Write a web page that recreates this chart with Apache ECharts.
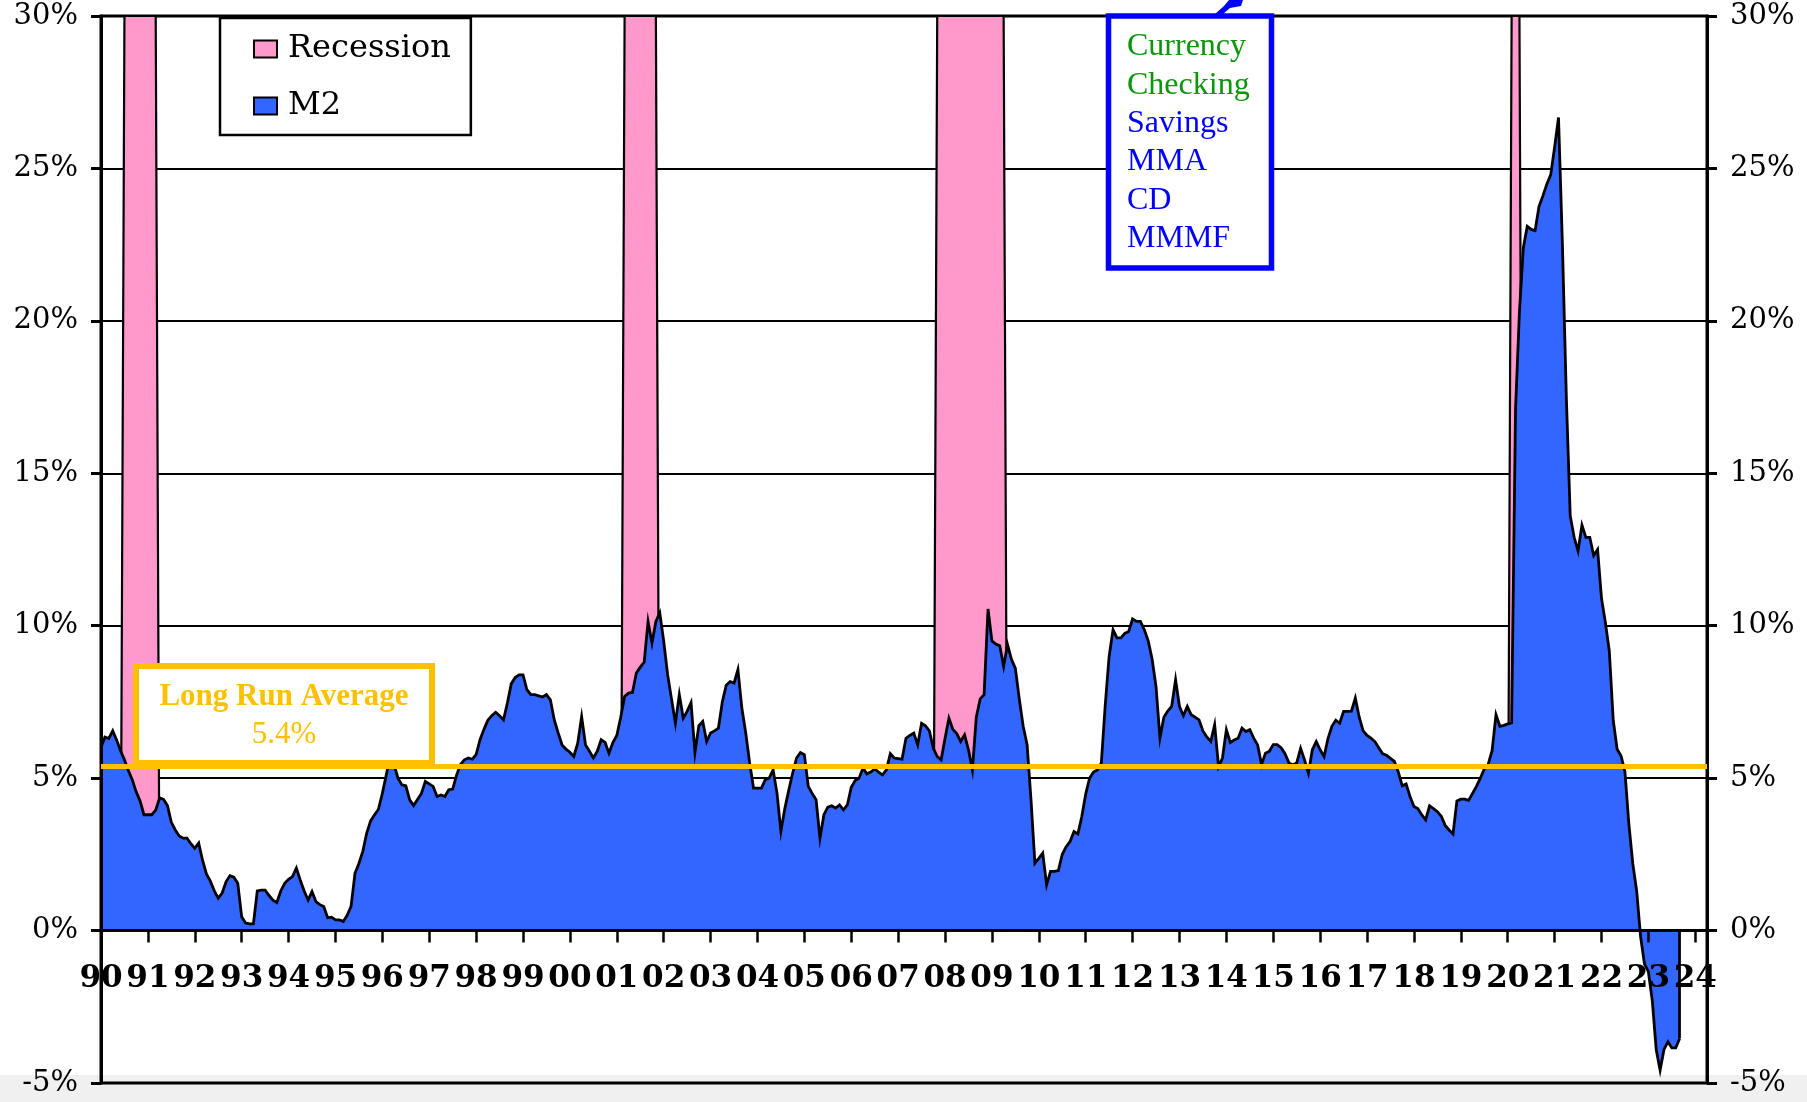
<!DOCTYPE html>
<html>
<head>
<meta charset="utf-8">
<title>M2 Money Supply Growth</title>
<script src="https://cdn.jsdelivr.net/npm/echarts@6/dist/echarts.min.js"></script>
<style>
  html, body { margin: 0; padding: 0; }
  #chart {
    width: 1807px;
    height: 1102px;
    background: linear-gradient(to bottom, #ffffff 0, #ffffff 1075px, #f0f0f0 1075px, #f0f0f0 100%);
  }
</style>
</head>
<body>
<div id="chart"></div>
<script>
// Monthly axis: January 1990 through April 2024
const firstYear = 1990;
const lastYear = 2024;
const lastMonthOfAxis = 4;

// M2 year-over-year growth, % (one row per year, January..December)
const m2_1990s = [
  6.0, 6.35, 6.3, 6.55, 6.25, 5.9, 5.6, 5.25, 4.95, 4.55, 4.25, 3.8,
  3.8, 3.8, 3.95, 4.35, 4.3, 4.1, 3.55, 3.3, 3.1, 3.03, 3.03, 2.85,
  2.7, 2.87, 2.3, 1.85, 1.62, 1.3, 1.06, 1.23, 1.6, 1.8, 1.75, 1.55,
  0.45, 0.25, 0.22, 0.22, 1.3, 1.33, 1.33, 1.15, 1.0, 0.92, 1.3, 1.55,
  1.68, 1.77, 2.05, 1.65, 1.3, 1.0, 1.28, 0.95, 0.85, 0.79, 0.42, 0.44,
  0.35, 0.35, 0.3, 0.5, 0.8, 1.88, 2.2, 2.6, 3.2, 3.6, 3.8, 3.98,
  4.5, 5.1, 5.7, 5.45, 5.0, 4.78, 4.75, 4.29, 4.1, 4.3, 4.5, 4.89,
  4.81, 4.73, 4.4, 4.45, 4.4, 4.62, 4.64, 5.1, 5.45, 5.6, 5.66, 5.62,
  5.77, 6.26, 6.6, 6.9, 7.05, 7.16, 7.05, 6.91, 7.46, 8.1, 8.3, 8.39,
  8.39, 7.9, 7.74, 7.74, 7.7, 7.66, 7.74, 7.57, 6.91, 6.48, 6.09, 5.95
];
const m2_2000s = [
  5.85, 5.71, 6.15, 7.02, 6.09, 5.88, 5.66, 5.88, 6.26, 6.17, 5.82, 6.17,
  6.4, 7.0, 7.68, 7.79, 7.81, 8.45, 8.64, 8.8, 10.14, 9.43, 10.14, 10.42,
  9.5, 8.4, 7.6, 6.8, 7.74, 6.97, 7.19, 7.48, 5.84, 6.72, 6.86, 6.2,
  6.48, 6.55, 6.64, 7.5, 8.05, 8.17, 8.12, 8.56, 7.3, 6.48, 5.5, 4.67,
  4.67, 4.67, 4.95, 5.0, 5.27, 4.51, 3.25, 4.0, 4.6, 5.16, 5.66, 5.84,
  5.77, 4.73, 4.5, 4.29, 3.03, 3.8, 4.05, 4.09, 4.02, 4.12, 3.96, 4.12,
  4.7, 4.92, 5.0, 5.33, 5.14, 5.2, 5.3, 5.2, 5.11, 5.27, 5.8, 5.66,
  5.64, 5.62, 6.31, 6.4, 6.48, 6.09, 6.8, 6.72, 6.55, 5.98, 5.71, 5.6,
  6.3, 6.97, 6.6, 6.46, 6.2, 6.42, 5.93, 5.27, 7.0, 7.6, 7.74, 10.55,
  9.5, 9.4, 9.34, 8.67, 9.38, 8.9, 8.6, 7.6, 6.7, 6.1, 4.3, 2.21
];
const m2_2010s = [
  2.37, 2.54, 1.5, 1.94, 1.94, 1.97, 2.5, 2.75, 2.92, 3.25, 3.17, 3.74,
  4.48, 5.0, 5.2, 5.27, 5.5, 7.4, 9.0, 9.87, 9.6, 9.6, 9.75, 9.81,
  10.22, 10.14, 10.14, 9.87, 9.5, 8.9, 8.0, 6.31, 7.0, 7.2, 7.35, 8.23,
  7.35, 7.05, 7.35, 7.08, 7.0, 6.91, 6.55, 6.35, 6.2, 6.75, 5.38, 5.66,
  6.59, 6.17, 6.25, 6.31, 6.64, 6.53, 6.59, 6.31, 6.09, 5.44, 5.82, 5.88,
  6.1, 6.1, 6.0, 5.8, 5.5, 5.44, 5.5, 5.98, 5.6, 5.16, 5.93, 6.2,
  5.93, 5.71, 6.3, 6.7, 6.9, 6.8, 7.19, 7.19, 7.2, 7.63, 7.0, 6.55,
  6.4, 6.31, 6.2, 6.0, 5.8, 5.75, 5.65, 5.55, 5.2, 4.75, 4.81, 4.4,
  4.07, 4.0, 3.8, 3.63, 4.09, 4.0, 3.9, 3.75, 3.45, 3.3, 3.17, 4.25,
  4.31, 4.31, 4.27, 4.5, 4.73, 5.0, 5.3, 5.45, 5.9, 7.08, 6.7, 6.73
];
const m2_2020s = [
  6.78, 6.81, 17.1, 20.3, 22.4, 23.1, 23.0, 22.96, 23.75, 24.1, 24.48, 24.79,
  25.7, 26.67, 22.5, 17.5, 13.6, 12.9, 12.45, 13.3, 12.9, 12.9, 12.3, 12.5,
  10.9, 10.1, 9.17, 6.9, 5.95, 5.73, 5.21, 3.5, 2.2, 1.3, -0.2, -1.1,
  -1.35, -2.3, -3.9, -4.58, -3.9, -3.65, -3.85, -3.85, -3.54
];

// Recessions (first and last month shaded)
const recessionPeriods = [
  ['1990-07', '1991-03'],
  ['2001-03', '2001-11'],
  ['2007-11', '2009-04'],
  ['2020-02', '2020-04']
];
const recessionHeight = 30;

const longRunAverage = 5.4;

// Money components listed in the callout
const narrowMoneyItems = ['Currency', 'Checking'];
const broadMoneyItems = ['Savings', 'MMA', 'CD', 'MMMF'];

// y-axis range, %
const yMin = -5, yMax = 30, yStep = 5;

// ---- layout ----
const chartW = 1807, chartH = 1102;
const gridBox = { left: 101, right: 100, top: 16, bottom: 19 };
const plotH = chartH - gridBox.top - gridBox.bottom;
// distance from the bottom edge of the plot up to the 0% line
const zeroLift = plotH * (0 - yMin) / (yMax - yMin);

// ---- derived tables ----
const months = [];
for (let y = firstYear; y <= lastYear; y++) {
  for (let m = 1; m <= 12; m++) {
    if (y === lastYear && m > lastMonthOfAxis) break;
    months.push(y + '-' + String(m).padStart(2, '0'));
  }
}
const m2Growth = [].concat(m2_1990s, m2_2000s, m2_2010s, m2_2020s);
const recessionData = months.map(function (mo) {
  return recessionPeriods.some(function (p) { return mo >= p[0] && mo <= p[1]; }) ? recessionHeight : 0;
});
const lastIdx = m2Growth.length - 1;
const lastVal = m2Growth[lastIdx];

const isJanuary = function (idx) { return idx % 12 === 0; };

const serif = '"DejaVu Serif", "Liberation Serif", serif';
const times = '"Liberation Serif", "Times New Roman", serif';

const chart = echarts.init(document.getElementById('chart'), null, { renderer: 'canvas', width: chartW, height: chartH });

const boxTexts = [];
narrowMoneyItems.concat(broadMoneyItems).forEach(function (t, k) {
  boxTexts.push({
    type: 'text',
    z: 101,
    x: 1127,
    y: 47 + k * 38.3,
    style: {
      text: t,
      font: '32px ' + times,
      fill: k < narrowMoneyItems.length ? '#0A960A' : '#0000FF',
      align: 'left',
      verticalAlign: 'middle'
    }
  });
});

const axisStroke = { color: '#000', width: 3 };
const yearTick = { show: true, interval: isJanuary, length: 12, lineStyle: { color: '#000', width: 2.5 } };

const option = {
  animation: false,
  backgroundColor: 'transparent',
  grid: {
    left: gridBox.left, right: gridBox.right, top: gridBox.top, bottom: gridBox.bottom,
    containLabel: false,
    outerBoundsMode: 'none',
    show: true, borderColor: '#000', borderWidth: 3,
    backgroundColor: 'transparent'
  },
  legend: {
    orient: 'vertical',
    left: 220, top: 18,
    padding: [14, 20, 12, 33],
    backgroundColor: '#fff',
    borderColor: '#000', borderWidth: 2.5,
    itemWidth: 23, itemHeight: 17, itemGap: 23,
    icon: 'rect',
    itemStyle: { borderColor: '#000', borderWidth: 2 },
    textStyle: { fontFamily: serif, fontSize: 32, color: '#000', lineHeight: 34, padding: [0, 0, 0, 6] },
    selectedMode: false,
    data: [
      { name: 'Recession', itemStyle: { color: '#FF99CC' } },
      { name: 'M2', itemStyle: { color: '#3366FF' } }
    ]
  },
  xAxis: [
    {
      // axis line and year ticks along 0%
      type: 'category',
      data: months,
      boundaryGap: false,
      z: 3,
      axisLine: { onZero: true, lineStyle: axisStroke },
      axisTick: yearTick,
      axisLabel: { show: false },
      splitLine: { show: false }
    },
    {
      // two-digit year labels just under the 0% line
      type: 'category',
      data: months,
      boundaryGap: false,
      position: 'bottom',
      offset: -zeroLift,
      z: 3,
      axisLine: { show: false, onZero: false },
      axisTick: yearTick,
      axisLabel: {
        interval: isJanuary,
        formatter: function (v) { return v.slice(2, 4); },
        fontFamily: serif, fontWeight: 'bold', fontSize: 31, color: '#000',
        margin: 33
      },
      splitLine: { show: false }
    }
  ],
  yAxis: [
    {
      type: 'value', position: 'left', min: yMin, max: yMax, interval: yStep, z: 3,
      axisLine: { show: true, lineStyle: axisStroke },
      axisTick: { show: true, length: 10, lineStyle: axisStroke },
      axisLabel: { formatter: '{value}%', fontFamily: serif, fontSize: 29, color: '#000', margin: 23 },
      splitLine: { show: false }
    },
    {
      type: 'value', position: 'right', min: yMin, max: yMax, interval: yStep, z: 0,
      axisLine: { show: true, lineStyle: axisStroke },
      axisTick: { show: true, length: 10, lineStyle: axisStroke },
      axisLabel: { formatter: '{value}%', fontFamily: serif, fontSize: 29, color: '#000', margin: 23 },
      splitLine: { show: true, lineStyle: { color: '#000', width: 1.8 } }
    }
  ],
  series: [
    {
      name: 'Recession',
      type: 'line',
      data: recessionData,
      xAxisIndex: 0,
      yAxisIndex: 0,
      z: 1,
      showSymbol: false,
      symbol: 'none',
      silent: true,
      color: '#FF99CC',
      lineStyle: { color: '#000', width: 2.2 },
      areaStyle: { color: '#FF99CC', opacity: 1 }
    },
    {
      name: 'M2',
      type: 'line',
      data: m2Growth,
      xAxisIndex: 0,
      yAxisIndex: 0,
      z: 2,
      showSymbol: false,
      symbol: 'none',
      silent: true,
      color: '#3366FF',
      lineStyle: { color: '#000', width: 2.8, join: 'miter' },
      areaStyle: { color: '#3366FF', opacity: 1 },
      markLine: {
        silent: true,
        symbol: ['none', 'none'],
        label: { show: false },
        data: [
          { yAxis: longRunAverage, lineStyle: { color: '#FFC000', width: 5, type: 'solid' } },
          [
            { coord: [lastIdx, lastVal], lineStyle: { color: '#000', width: 2.8, type: 'solid' } },
            { coord: [lastIdx, 0] }
          ]
        ]
      }
    }
  ],
  graphic: [
    // Long-run average callout
    {
      type: 'rect', z: 100,
      shape: { x: 136, y: 666, width: 296, height: 97 },
      style: { fill: '#fff', stroke: '#FFC000', lineWidth: 6 }
    },
    {
      type: 'text', z: 101, x: 284, y: 697,
      style: { text: 'Long Run Average', font: 'bold 31px ' + times, fill: '#FFC000', align: 'center', verticalAlign: 'middle' }
    },
    {
      type: 'text', z: 101, x: 284, y: 735,
      style: { text: longRunAverage.toFixed(1) + '%', font: '31px ' + times, fill: '#FFC000', align: 'center', verticalAlign: 'middle' }
    },
    // Components callout
    {
      type: 'rect', z: 100,
      shape: { x: 1108.5, y: 16, width: 163, height: 252 },
      style: { fill: '#fff', stroke: '#0000FF', lineWidth: 5.5 }
    },
    {
      type: 'polygon', z: 101,
      shape: { points: [[1215, 14], [1224, 6], [1229, 0], [1243, 0], [1241, 6], [1230, 8], [1223, 14]] },
      style: { fill: '#0000FF' }
    }
  ].concat(boxTexts)
};

chart.setOption(option);
</script>
</body>
</html>
